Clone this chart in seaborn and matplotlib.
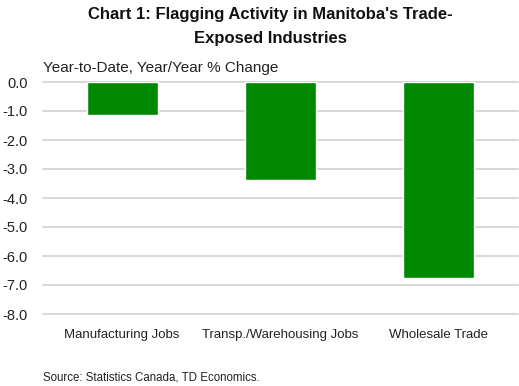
import matplotlib
matplotlib.use("Agg")
import matplotlib.pyplot as plt
import seaborn as sns
import pandas as pd

categories = ["Manufacturing Jobs", "Transp./Warehousing Jobs", "Wholesale Trade"]
values = [-1.13, -3.37, -6.77]
yticks = [0, -1, -2, -3, -4, -5, -6, -7, -8]

sns.set_theme(style="white")
plt.rcParams['font.family'] = ['Liberation Sans', 'DejaVu Sans']

df = pd.DataFrame({"cat": categories, "val": values})

fig = plt.figure(figsize=(5.19, 3.86), dpi=100)
ax = fig.add_axes([43/519, 1-314/386, 475/519, 232/386])
sns.barplot(data=df, x="cat", y="val", color="#008800", saturation=1, width=0.45, ax=ax, zorder=3)
ax.set_ylim(-8, 0)
ax.set_yticks(yticks)
ax.set_yticklabels([f"{v:.1f}" for v in yticks], fontsize=10.5, color="#222222")
ax.tick_params(axis='y', length=0, pad=11)
ax.tick_params(axis='x', length=0, pad=11, labelsize=9.5, labelcolor="#222222")
for y in yticks:
    ax.axhline(y, color="#d9d9d9", lw=1.5, zorder=1, clip_on=False)
for s in ax.spines.values():
    s.set_visible(False)
ax.set_xlabel("")
ax.set_ylabel("")
ax.grid(False)

fig.text(270/519, 1-15/386, "Chart 1: Flagging Activity in Manitoba's Trade-", ha="center", va="center",
         fontsize=12, fontweight="bold", color="#111111")
fig.text(270/519, 1-38/386, "Exposed Industries", ha="center", va="center",
         fontsize=12, fontweight="bold", color="#111111")
fig.text(43/519, 1-68/386, "Year-to-Date, Year/Year % Change", ha="left", va="center",
         fontsize=11, color="#222222")
fig.text(43/519, 1-377/386, "Source: Statistics Canada, TD Economics.", ha="left", va="center",
         fontsize=8.3, color="#222222")

fig.savefig("out.png", dpi=100)
